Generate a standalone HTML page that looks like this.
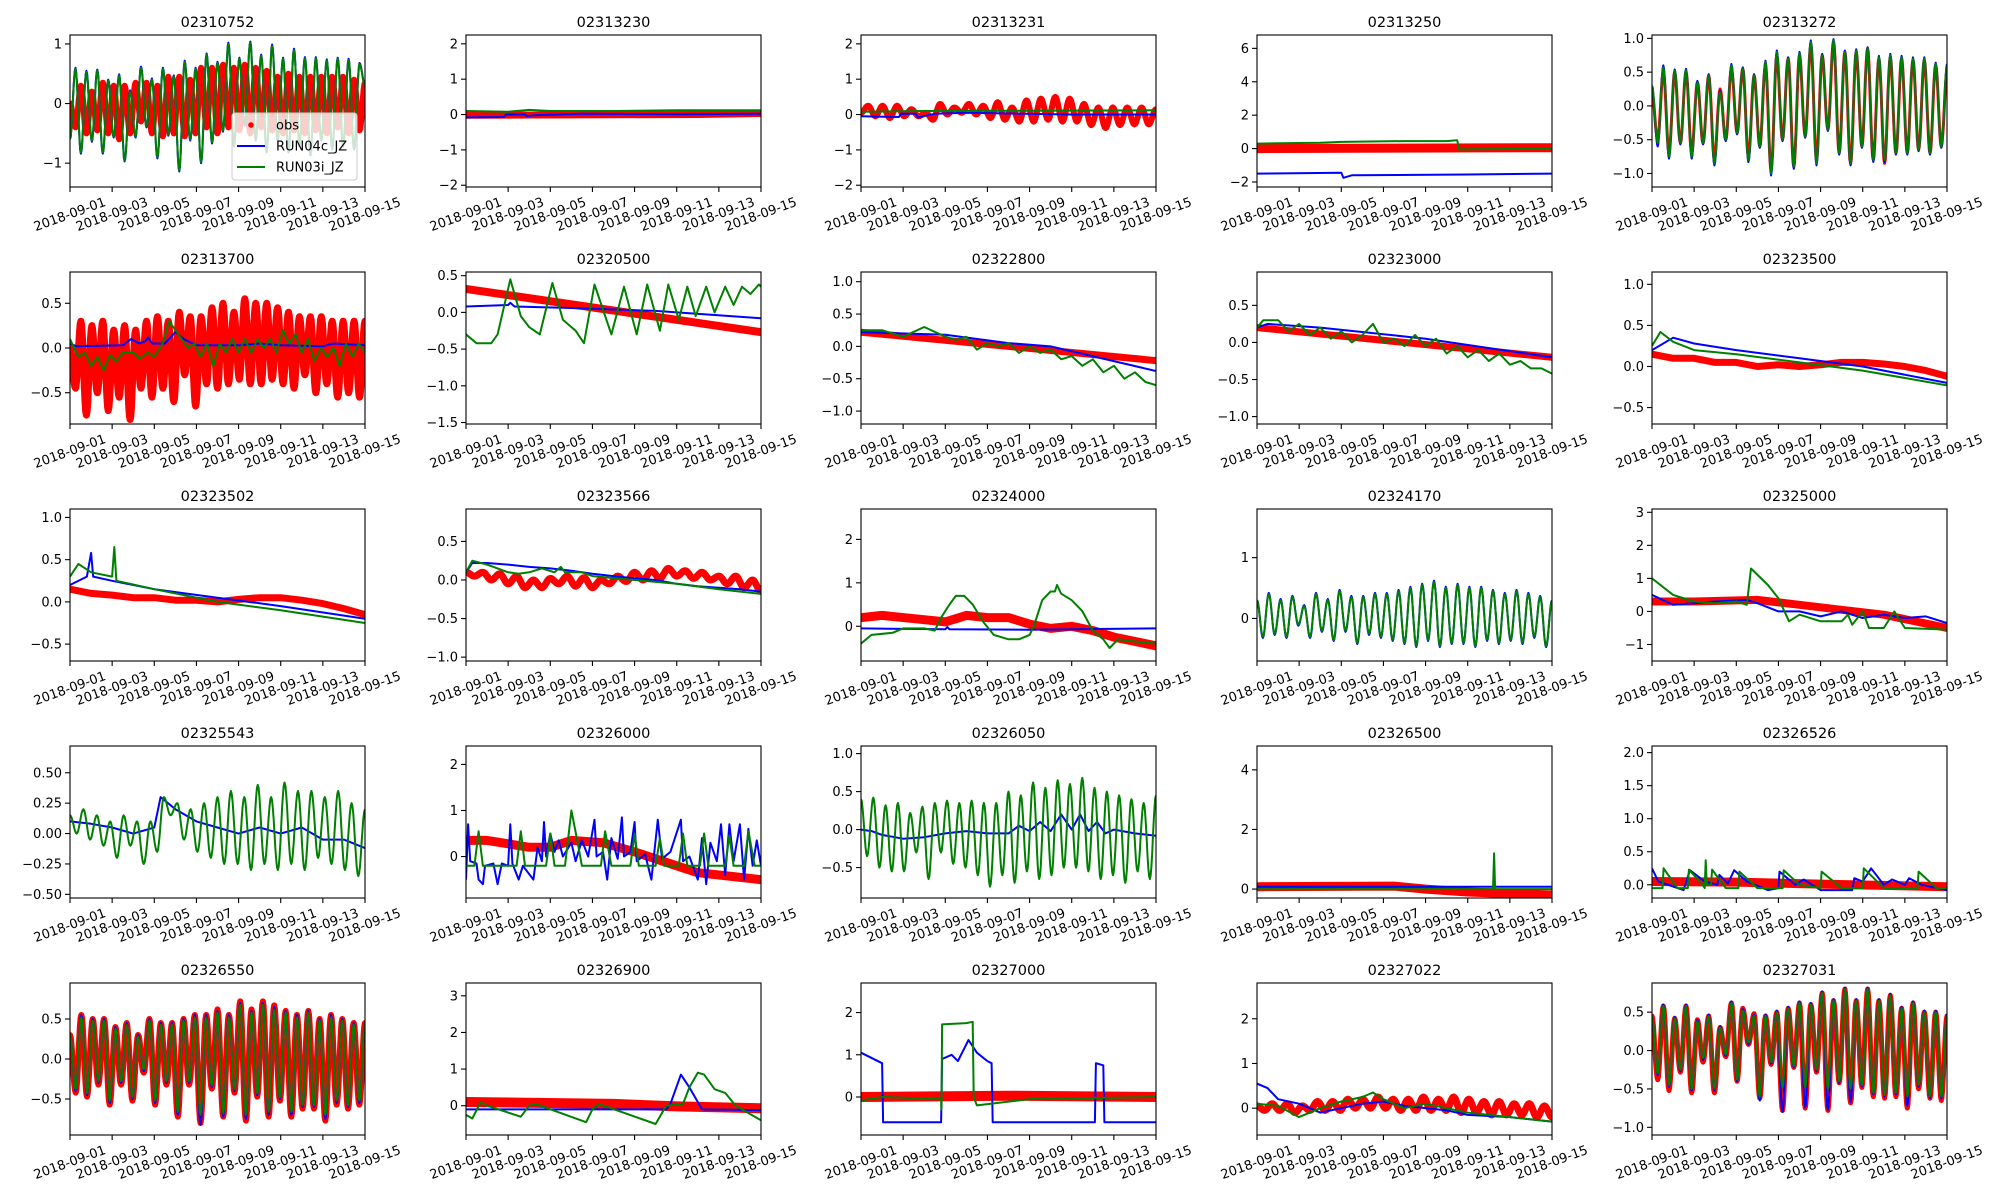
<!DOCTYPE html>
<html><head><meta charset="utf-8"><style>
html,body{margin:0;padding:0;background:#fff;}
svg{display:block;font-family:"DejaVu Sans","Liberation Sans",sans-serif;}
</style></head><body>
<svg id="fig" width="2000" height="1200" viewBox="0 0 2000 1200" xmlns="http://www.w3.org/2000/svg"></svg>
<script>
// ---------- data ----------
const titles=["02310752","02313230","02313231","02313250","02313272","02313700","02320500","02322800","02323000","02323500","02323502","02323566","02324000","02324170","02325000","02325543","02326000","02326050","02326500","02326526","02326550","02326900","02327000","02327022","02327031"];
const yMin=[-1.4,-2.05,-2.05,-2.3,-1.2,-0.85,-1.52,-1.2,-1.1,-0.7,-0.7,-1.05,-0.8,-0.7,-1.5,-0.53,-0.9,-0.9,-0.3,-0.2,-0.95,-0.8,-0.9,-0.6,-1.1];
const yMax=[1.15,2.25,2.25,6.8,1.05,0.85,0.55,1.15,0.95,1.15,1.1,0.92,2.7,1.8,3.1,0.72,2.4,1.1,4.8,2.1,0.95,3.35,2.7,2.8,0.88];
const yTicks=[[-1,0,1],[-2,-1,0,1,2],[-2,-1,0,1,2],[-2,0,2,4,6],[-1,-0.5,0,0.5,1],
[-0.5,0,0.5],[-1.5,-1,-0.5,0,0.5],[-1,-0.5,0,0.5,1],[-1,-0.5,0,0.5],[-0.5,0,0.5,1],
[-0.5,0,0.5,1],[-1,-0.5,0,0.5],[0,1,2],[0,1],[-1,0,1,2,3],
[-0.5,-0.25,0,0.25,0.5],[0,1,2],[-0.5,0,0.5,1],[0,2,4],[0,0.5,1,1.5,2],
[-0.5,0,0.5],[0,1,2,3],[0,1,2],[0,1,2],[-1,-0.5,0,0.5]];
const yTickLabels=[["\u22121","0","1"],["\u22122","\u22121","0","1","2"],["\u22122","\u22121","0","1","2"],["\u22122","0","2","4","6"],["\u22121.0","\u22120.5","0.0","0.5","1.0"],
["\u22120.5","0.0","0.5"],["\u22121.5","\u22121.0","\u22120.5","0.0","0.5"],["\u22121.0","\u22120.5","0.0","0.5","1.0"],["\u22121.0","\u22120.5","0.0","0.5"],["\u22120.5","0.0","0.5","1.0"],
["\u22120.5","0.0","0.5","1.0"],["\u22121.0","\u22120.5","0.0","0.5"],["0","1","2"],["0","1"],["\u22121","0","1","2","3"],
["\u22120.50","\u22120.25","0.00","0.25","0.50"],["0","1","2"],["\u22120.5","0.0","0.5","1.0"],["0","2","4"],["0.0","0.5","1.0","1.5","2.0"],
["\u22120.5","0.0","0.5"],["0","1","2","3"],["0","1","2"],["0","1","2"],["\u22121.0","\u22120.5","0.0","0.5"]];
const xTickDays=[0,2,4,6,8,10,12,14];
const xTickLabels=["2018-09-01","2018-09-03","2018-09-05","2018-09-07","2018-09-09","2018-09-11","2018-09-13","2018-09-15"];

// series: plain number arrays = successive tidal extremes spread evenly over 14 days; [day,value] pairs = polyline
const obs01=[0.0,-0.4,0.3,-0.5,0.2,-0.45,0.35,-0.5,0.3,-0.6,0.3,-0.5,0.35,-0.3,0.35,-0.5,0.3,-0.55,0.45,-0.5,0.45,-0.55,0.4,-0.5,0.6,-0.4,0.6,-0.5,0.65,-0.4,0.6,-0.45,0.65,-0.5,0.6,-0.4,0.55,-0.45,0.45,-0.5,0.5,-0.45,0.45,-0.5,0.45,-0.45,0.45,-0.5,0.45,-0.4,0.45,-0.5,0.4,-0.45,0.35];
const blue01=[-0.6,0.6,-0.84,0.55,-0.64,0.57,-0.84,0.4,-0.57,0.49,-0.97,0.22,-0.57,0.62,-0.4,0.42,-0.92,0.6,-0.54,0.47,-1.14,0.72,-0.62,0.6,-1.0,0.84,-0.67,0.7,-0.47,1.02,-0.72,0.77,-0.37,1.04,-0.62,0.82,-0.82,0.99,-0.62,0.77,-0.82,0.92,-0.72,0.78,-0.87,0.78,-0.62,0.74,-0.77,0.77,-0.72,0.75,-0.77,0.68,0.3];
const green01=[-0.6,0.58,-0.82,0.53,-0.62,0.55,-0.82,0.38,-0.55,0.47,-0.95,0.2,-0.55,0.6,-0.38,0.4,-0.9,0.58,-0.52,0.45,-1.12,0.7,-0.6,0.58,-0.98,0.82,-0.65,0.68,-0.45,1.0,-0.7,0.75,-0.35,1.02,-0.6,0.8,-0.8,0.97,-0.6,0.75,-0.8,0.9,-0.7,0.76,-0.85,0.76,-0.6,0.72,-0.75,0.75,-0.7,0.73,-0.75,0.66,0.3];

const obs02=[[0,-0.02],[11,0.0],[14,0.03]];
const blue02=[[0,-0.08],[1.8,-0.07],[1.9,0.0],[2.8,0.0],[2.9,-0.05],[3.2,-0.02],[5.5,0.02],[10,0.01],[14,0.02]];
const green02=[[0,0.1],[2,0.08],[3,0.13],[4,0.1],[7,0.1],[10,0.12],[14,0.12]];

const obs03=[0.05,0.25,-0.05,0.25,-0.1,0.25,-0.05,0.15,-0.05,0.05,-0.15,0.3,0.0,0.2,0.05,0.3,0.0,0.25,-0.1,0.35,-0.15,0.2,-0.2,0.4,-0.2,0.45,-0.15,0.5,-0.2,0.45,-0.2,0.3,-0.3,0.2,-0.38,0.2,-0.3,0.2,-0.28,0.2,-0.28,0.15];
const blue03=[[0,-0.05],[1.8,-0.07],[1.9,0.02],[2.6,0.02],[2.7,-0.08],[3.5,0.02],[5,0.05],[10,0.0],[14,0.0]];
const green03=[[0,0.08],[3,0.1],[14,0.12]];

const obs04=[[0,0.0],[14,0.05]];
const blue04=[[0,-1.5],[4,-1.45],[4.1,-1.75],[4.5,-1.6],[10,-1.55],[14,-1.5]];
const green04=[[0,0.3],[3,0.35],[4,0.4],[7,0.45],[9,0.45],[9.5,0.5],[9.6,-0.05],[14,0.0]];

const obs05=[0.2,-0.5,0.5,-0.7,0.5,-0.55,0.5,-0.7,0.35,-0.55,0.45,-0.8,0.25,-0.5,0.55,-0.4,0.55,-0.75,0.45,-0.6,0.6,-0.95,0.75,-0.5,0.7,-0.9,0.75,-0.45,0.9,-0.8,0.75,-0.35,0.95,-0.7,0.8,-0.85,0.8,-0.6,0.85,-0.8,0.7,-0.85,0.72,-0.7,0.7,-0.7,0.68,-0.65,0.68,-0.7,0.6,-0.6,0.5];
const blue05=[0.3,-0.6,0.6,-0.78,0.54,-0.57,0.55,-0.78,0.37,-0.57,0.47,-0.88,0.22,-0.52,0.62,-0.42,0.57,-0.83,0.47,-0.62,0.67,-1.03,0.82,-0.52,0.72,-0.93,0.8,-0.47,0.97,-0.88,0.77,-0.37,0.99,-0.72,0.82,-0.88,0.84,-0.62,0.87,-0.83,0.74,-0.83,0.77,-0.72,0.74,-0.72,0.72,-0.67,0.72,-0.72,0.64,-0.62,0.62];
const green05=[0.3,-0.55,0.57,-0.75,0.52,-0.55,0.53,-0.75,0.35,-0.55,0.45,-0.85,0.2,-0.5,0.6,-0.4,0.55,-0.8,0.45,-0.6,0.65,-1.0,0.8,-0.5,0.7,-0.9,0.78,-0.45,0.95,-0.85,0.75,-0.35,0.97,-0.7,0.8,-0.85,0.82,-0.6,0.85,-0.8,0.72,-0.8,0.75,-0.7,0.72,-0.7,0.7,-0.65,0.7,-0.7,0.62,-0.6,0.6];

const obs06=[0.0,-0.45,0.3,-0.75,0.25,-0.5,0.3,-0.7,0.2,-0.55,0.25,-0.8,0.2,-0.45,0.3,-0.55,0.35,-0.45,0.3,-0.6,0.4,-0.3,0.35,-0.65,0.35,-0.4,0.45,-0.45,0.5,-0.4,0.4,-0.35,0.55,-0.4,0.5,-0.4,0.5,-0.35,0.45,-0.4,0.4,-0.45,0.35,-0.3,0.35,-0.5,0.35,-0.4,0.3,-0.55,0.3,-0.5,0.3,-0.55,0.3];
const blue06=[[0,0.05],[0.3,0.02],[2.5,0.03],[2.9,0.1],[3.3,0.05],[3.6,0.08],[3.7,0.12],[3.9,0.05],[4.5,0.05],[5,0.18],[5.4,0.1],[6,0.03],[8,0.03],[9,0.05],[10,0.03],[12,0.02],[12.5,0.05],[14,0.03]];
const green06=[[0,0.1],[0.4,-0.1],[0.7,-0.05],[1,-0.2],[1.3,-0.1],[1.6,-0.25],[1.9,-0.08],[2.2,-0.15],[2.5,-0.05],[3.0,-0.05],[3.3,-0.12],[3.7,-0.05],[4.0,-0.1],[4.4,0.05],[4.7,0.3],[5.0,0.2],[5.3,0.1],[5.6,0.0],[5.9,0.05],[6.2,-0.1],[6.5,0.05],[6.8,-0.2],[7.1,0.05],[7.4,-0.05],[7.7,0.1],[8.0,-0.05],[8.3,0.1],[8.6,-0.05],[8.9,0.1],[9.2,0.0],[9.5,0.1],[9.8,-0.05],[10.1,0.2],[10.4,0.05],[10.7,0.15],[11,-0.05],[11.3,0.1],[11.6,-0.15],[11.9,0.0],[12.2,-0.1],[12.5,0.0],[12.8,-0.2],[13.1,0.05],[13.4,-0.1],[13.7,0.05],[14,-0.05]];

const obs07=[[0,0.32],[14,-0.27]];
const blue07=[[0,0.08],[2,0.1],[2.1,0.13],[2.3,0.08],[5,0.06],[9,0.02],[14,-0.08]];
const green07=[[0,-0.3],[0.5,-0.42],[1.2,-0.42],[1.5,-0.3],[2.1,0.45],[2.6,-0.05],[3,-0.2],[3.5,-0.3],[4.1,0.4],[4.6,-0.1],[5.2,-0.25],[5.6,-0.42],[6.1,0.38],[6.9,-0.3],[7.5,0.35],[8.1,-0.3],[8.6,0.38],[9.2,-0.25],[9.6,0.38],[10.1,-0.1],[10.5,0.35],[10.9,-0.05],[11.4,0.35],[11.8,0.0],[12.3,0.35],[12.7,0.1],[13.1,0.35],[13.5,0.25],[13.9,0.38],[14,0.35]];

const obs08=[[0,0.22],[14,-0.22]];
const blue08=[[0,0.22],[4,0.18],[7,0.05],[9,0.0],[14,-0.38]];
const green08=[[0,0.25],[1,0.25],[2,0.15],[3,0.3],[4,0.15],[4.5,0.1],[5,0.15],[5.5,-0.05],[6,0.05],[6.5,0.0],[7,0.05],[7.5,-0.1],[8,0.0],[8.5,-0.1],[9,-0.05],[9.5,-0.2],[10,-0.15],[10.5,-0.3],[11,-0.2],[11.5,-0.4],[12,-0.3],[12.5,-0.5],[13,-0.4],[13.5,-0.55],[14,-0.6]];

const obs09=[[0,0.2],[14,-0.2]];
const blue09=[[0,0.2],[0.5,0.25],[3,0.2],[8,0.05],[14,-0.2]];
const green09=[[0,0.2],[0.3,0.3],[1,0.3],[1.5,0.15],[2,0.25],[2.5,0.1],[3,0.2],[3.5,0.05],[4,0.15],[4.5,0.0],[5,0.1],[5.5,0.25],[6,0.0],[6.5,0.05],[7,-0.05],[7.5,0.1],[8,-0.05],[8.5,0.05],[9,-0.15],[9.5,-0.05],[10,-0.2],[10.5,-0.1],[11,-0.25],[11.5,-0.15],[12,-0.3],[12.5,-0.25],[13,-0.35],[13.5,-0.35],[14,-0.42]];

const obs10=[[0,0.15],[1,0.1],[2,0.1],[3,0.05],[4,0.05],[5,0.0],[6,0.02],[7,0.0],[8,0.02],[9,0.05],[10,0.05],[11,0.03],[12,0.0],[13,-0.05],[14,-0.12]];
const blue10=[[0,0.2],[1,0.35],[2,0.28],[4,0.2],[7,0.1],[10,0.0],[14,-0.2]];
const green10=[[0,0.25],[0.4,0.42],[1,0.3],[1.5,0.25],[2,0.2],[4,0.15],[7,0.05],[10,-0.05],[14,-0.23]];

const obs11=[[0,0.15],[1,0.1],[2,0.08],[3,0.05],[4,0.05],[5,0.02],[6,0.02],[7,0.0],[8,0.03],[9,0.05],[10,0.05],[11,0.02],[12,-0.02],[13,-0.08],[14,-0.15]];
const blue11=[[0,0.2],[0.8,0.3],[1,0.58],[1.1,0.3],[2,0.25],[4,0.15],[7,0.05],[10,-0.05],[14,-0.2]];
const green11=[[0,0.3],[0.4,0.45],[1,0.35],[2,0.3],[2.1,0.65],[2.2,0.25],[4,0.15],[7,0.0],[10,-0.1],[14,-0.25]];

const obs12=[0.1,0.05,0.1,0.0,0.08,-0.05,0.05,-0.1,0.0,-0.1,0.02,-0.05,0.05,-0.08,0.03,-0.1,0.0,-0.05,0.05,-0.02,0.1,0.0,0.12,0.02,0.15,0.05,0.12,0.02,0.1,0.0,0.05,-0.05,0.05,-0.1,0.0,-0.15];
const blue12=[[0,0.1],[0.3,0.22],[1,0.22],[2,0.2],[3,0.17],[4,0.15],[5,0.12],[6,0.08],[7,0.05],[8,0.02],[9,0.0],[10,-0.05],[11,-0.08],[12,-0.1],[13,-0.12],[14,-0.15]];
const green12=[[0,0.1],[0.3,0.25],[1,0.2],[2,0.1],[2.5,0.08],[3,0.1],[3.6,0.15],[4.2,0.1],[4.5,0.17],[4.7,0.1],[5.5,0.1],[6,0.05],[8,0.0],[10,-0.05],[12,-0.12],[14,-0.18]];

const obs13=[[0,0.2],[1,0.25],[3,0.15],[4,0.1],[5,0.25],[6,0.2],[7,0.2],[8,0.05],[9,-0.05],[10,0.0],[11,-0.1],[12,-0.25],[14,-0.45]];
const blue13=[[0,-0.05],[4,-0.07],[4.1,-0.02],[4.2,-0.07],[8,-0.08],[14,-0.05]];
const green13=[[0,-0.4],[0.5,-0.2],[1.5,-0.15],[2,-0.05],[3,-0.05],[3.5,-0.1],[3.8,0.2],[4.2,0.5],[4.5,0.7],[4.9,0.7],[5.3,0.5],[5.8,0.1],[6.3,-0.2],[7,-0.3],[7.5,-0.3],[8,-0.2],[8.2,0.0],[8.6,0.6],[9,0.8],[9.2,0.8],[9.3,0.95],[9.5,0.75],[10,0.6],[10.5,0.35],[11,-0.1],[11.5,-0.3],[11.8,-0.5],[12.2,-0.3],[13,-0.35],[14,-0.4]];

const obs14=[];
const blue14=[0.3,-0.32,0.42,-0.27,0.32,-0.32,0.37,-0.12,0.22,-0.32,0.42,-0.22,0.32,-0.37,0.47,-0.22,0.37,-0.42,0.37,-0.27,0.42,-0.32,0.42,-0.37,0.47,-0.42,0.52,-0.47,0.57,-0.37,0.62,-0.47,0.52,-0.42,0.57,-0.42,0.52,-0.47,0.52,-0.37,0.47,-0.42,0.42,-0.37,0.47,-0.42,0.42,-0.32,0.37,-0.47,0.3];
const green14=[0.3,-0.3,0.4,-0.25,0.3,-0.3,0.35,-0.1,0.2,-0.3,0.4,-0.2,0.3,-0.35,0.45,-0.2,0.35,-0.4,0.35,-0.25,0.4,-0.3,0.4,-0.35,0.45,-0.4,0.5,-0.45,0.55,-0.35,0.6,-0.45,0.5,-0.4,0.55,-0.4,0.5,-0.45,0.5,-0.35,0.45,-0.4,0.4,-0.35,0.45,-0.4,0.4,-0.3,0.35,-0.45,0.3];

const obs15=[[0,0.3],[2,0.3],[5,0.35],[7,0.2],[9,0.05],[11,-0.1],[14,-0.5]];
const blue15=[[0,0.5],[1,0.2],[2,0.25],[3,0.3],[4.5,0.35],[5,0.25],[6,0.0],[7,0.0],[8,-0.15],[9,0.0],[10,-0.2],[11,-0.1],[12,-0.2],[13,-0.15],[14,-0.35]];
const green15=[[0,1.0],[1,0.5],[2,0.3],[3,0.25],[4,0.3],[4.5,0.2],[4.7,1.3],[5.5,0.8],[6,0.4],[6.5,-0.3],[7,-0.1],[8,-0.3],[9,-0.3],[9.3,-0.1],[9.5,-0.4],[10,0.0],[10.3,-0.5],[11,-0.5],[11.5,0.0],[12,-0.5],[14,-0.55]];

const obs16=[];
const blue16=[[0,0.1],[1,0.08],[2,0.05],[3,0.0],[4,0.05],[4.3,0.3],[5,0.2],[6,0.1],[7,0.05],[8,0.0],[9,0.05],[10,0.0],[11,0.05],[12,-0.05],[13,-0.05],[14,-0.12]];
const green16=[0.15,0.0,0.2,-0.05,0.15,-0.1,0.1,-0.2,0.15,-0.1,0.1,-0.25,0.1,-0.15,0.3,0.15,0.25,-0.05,0.2,-0.15,0.25,-0.2,0.3,-0.25,0.35,-0.25,0.3,-0.3,0.4,-0.25,0.3,-0.3,0.42,-0.25,0.35,-0.3,0.35,-0.2,0.3,-0.25,0.35,-0.3,0.25,-0.35,0.2];

const obs17=[[0,0.35],[1,0.35],[3,0.2],[4,0.2],[5,0.35],[6.5,0.3],[8,0.1],[10,-0.2],[11,-0.35],[12,-0.4],[14,-0.5]];
const blue17=[[0,-0.5],[0.1,0.7],[0.2,-0.1],[0.5,-0.15],[0.6,-0.5],[0.8,-0.6],[0.9,-0.2],[1.3,-0.15],[1.5,-0.6],[1.7,-0.15],[2,-0.2],[2.1,0.7],[2.2,-0.15],[2.5,-0.5],[2.7,-0.2],[3.2,-0.5],[3.4,0.2],[3.6,-0.1],[3.7,0.75],[3.8,0.0],[4.0,0.5],[4.2,0.1],[4.4,0.35],[4.6,0.0],[5,0.3],[5.2,-0.1],[5.5,0.35],[5.8,0.0],[6.1,0.8],[6.2,0.0],[6.5,0.1],[6.7,-0.5],[6.9,0.4],[7.2,-0.05],[7.4,0.85],[7.5,0.0],[7.8,0.1],[8.0,0.75],[8.1,-0.1],[8.5,0.05],[8.8,-0.5],[9.1,0.8],[9.3,-0.05],[9.7,0.1],[10.2,0.8],[10.3,-0.1],[10.6,0.0],[11,-0.5],[11.2,0.4],[11.4,-0.6],[11.6,0.3],[11.9,-0.1],[12.1,0.7],[12.3,-0.4],[12.5,0.7],[12.7,-0.1],[13,0.7],[13.2,-0.5],[13.4,0.6],[13.6,-0.2],[13.8,0.35],[14,-0.2]];
const green17=[[0,-0.2],[0.4,-0.2],[0.6,0.55],[0.8,-0.2],[2.4,-0.2],[2.6,0.55],[2.8,-0.2],[3.8,-0.2],[4.0,0.5],[4.2,-0.2],[4.7,-0.2],[5.0,1.0],[5.3,0.3],[5.5,-0.2],[6.4,-0.2],[6.6,0.55],[6.9,-0.2],[7.8,-0.2],[8.0,0.5],[8.2,-0.2],[9.0,-0.2],[9.2,0.4],[9.4,-0.2],[10.1,-0.2],[10.3,0.5],[10.5,-0.2],[11.1,-0.2],[11.3,0.5],[11.5,-0.2],[12.3,-0.2],[12.5,0.45],[12.7,-0.2],[13.2,-0.2],[13.4,0.55],[13.7,-0.2],[14,-0.2]];

const obs18=[];
const blue18=[[0,0.0],[0.5,-0.02],[1,-0.07],[2,-0.12],[3,-0.1],[4,-0.05],[5,-0.02],[6,-0.05],[7,-0.05],[7.5,0.05],[8,-0.02],[8.5,0.1],[9,-0.02],[9.5,0.2],[10,0.0],[10.4,0.2],[10.8,-0.02],[11.2,0.1],[11.6,-0.05],[12,0.0],[13,-0.05],[14,-0.08]];
const green18=[0.4,-0.35,0.42,-0.5,0.32,-0.55,0.35,-0.55,0.22,-0.3,0.3,-0.65,0.35,-0.3,0.38,-0.45,0.35,-0.5,0.38,-0.6,0.35,-0.75,0.35,-0.6,0.5,-0.7,0.45,-0.55,0.62,-0.65,0.55,-0.6,0.65,-0.5,0.6,-0.5,0.68,-0.55,0.55,-0.65,0.5,-0.6,0.45,-0.7,0.4,-0.55,0.35,-0.65,0.45];

const obs19=[[0,0.08],[6.5,0.1],[8,0.0],[10,-0.1],[14,-0.2]];
const blue19=[[0,0.08],[14,0.08]];
const green19=[[0,0.0],[11.2,0.0],[11.25,1.2],[11.3,0.0],[14,0.0]];

const obs20=[[0,0.05],[4,0.04],[8,0.01],[14,-0.03]];
const blue20=[[0,0.25],[0.3,0.05],[1.5,-0.08],[1.8,0.22],[2.5,0.05],[3.1,0.0],[3.2,0.15],[3.6,0.02],[3.9,0.22],[4.5,0.05],[5.5,-0.08],[6.0,-0.05],[6.05,0.2],[6.8,0.0],[7.2,0.08],[8,-0.08],[9.5,-0.08],[9.6,0.1],[10,0.05],[10.4,0.25],[11,0.0],[11.4,0.08],[12,0.0],[12.2,0.1],[12.8,0.0],[14,-0.08]];
const green20=[[0,-0.05],[0.5,-0.05],[0.55,0.25],[1.2,-0.05],[1.7,-0.05],[1.75,0.23],[2.4,0.0],[2.5,-0.05],[2.55,0.37],[2.6,0.0],[2.8,0.0],[2.85,0.23],[3.5,-0.05],[4.1,-0.05],[4.15,0.2],[5,-0.05],[6.2,-0.05],[6.25,0.22],[7,0.0],[8,-0.05],[8.05,0.2],[9,-0.05],[10,-0.05],[10.05,0.25],[11,-0.05],[12.6,-0.05],[12.65,0.2],[13.5,-0.05],[14,-0.05]];

const obs21=[0.3,-0.42,0.55,-0.47,0.5,-0.32,0.5,-0.57,0.4,-0.32,0.45,-0.52,0.3,-0.17,0.5,-0.57,0.45,-0.32,0.45,-0.72,0.5,-0.32,0.55,-0.8,0.55,-0.37,0.62,-0.72,0.55,-0.42,0.72,-0.77,0.62,-0.47,0.72,-0.72,0.67,-0.52,0.6,-0.72,0.55,-0.62,0.6,-0.62,0.5,-0.77,0.55,-0.57,0.5,-0.62,0.45,-0.57,0.45];
const blue21=[0.3,-0.4,0.55,-0.45,0.5,-0.3,0.5,-0.55,0.4,-0.3,0.45,-0.5,0.3,-0.15,0.5,-0.55,0.45,-0.3,0.45,-0.7,0.5,-0.3,0.55,-0.82,0.55,-0.35,0.6,-0.72,0.55,-0.4,0.7,-0.75,0.6,-0.45,0.7,-0.7,0.65,-0.5,0.6,-0.7,0.55,-0.6,0.6,-0.6,0.5,-0.75,0.55,-0.55,0.5,-0.6,0.45,-0.55,0.45];
const green21=[0.3,-0.38,0.52,-0.43,0.48,-0.28,0.48,-0.52,0.38,-0.28,0.43,-0.48,0.28,-0.13,0.48,-0.52,0.43,-0.28,0.43,-0.66,0.48,-0.28,0.52,-0.7,0.52,-0.33,0.58,-0.68,0.52,-0.38,0.68,-0.7,0.58,-0.43,0.68,-0.66,0.62,-0.48,0.58,-0.66,0.52,-0.58,0.58,-0.58,0.48,-0.7,0.52,-0.52,0.48,-0.58,0.43,-0.52,0.45];

const obs22=[[0,0.1],[7,0.05],[10,-0.02],[14,-0.07]];
const blue22=[[0,-0.1],[9.5,-0.1],[9.7,0.05],[10.2,0.85],[10.6,0.5],[11.2,-0.1],[14,-0.12]];
const green22=[[0,-0.25],[0.3,-0.35],[0.7,0.1],[1,0.0],[2.6,-0.3],[3.0,0.0],[3.3,0.05],[5.7,-0.45],[6.0,-0.1],[6.3,0.05],[9.0,-0.5],[9.5,0.0],[10.3,0.05],[10.6,0.5],[11,0.9],[11.3,0.85],[11.8,0.45],[12.3,0.35],[12.8,0.0],[14,-0.4]];

const obs23=[[0,0.0],[7,0.03],[14,0.0]];
const blue23=[[0,1.05],[1,0.8],[1.05,-0.6],[3.8,-0.6],[3.85,0.9],[4.3,1.0],[4.6,0.85],[5.1,1.35],[5.5,1.05],[6,0.85],[6.2,0.8],[6.25,-0.6],[11.1,-0.6],[11.15,0.8],[11.5,0.75],[11.55,-0.6],[14,-0.6]];
const green23=[[0,-0.08],[1,0.0],[3.8,-0.05],[3.82,-0.3],[3.85,1.72],[5,1.75],[5.3,1.78],[5.35,0.0],[5.5,-0.2],[8,-0.05],[14,0.0]];

const obs24=[0.05,-0.05,0.1,-0.05,0.1,-0.1,0.05,-0.05,0.15,-0.05,0.15,-0.05,0.2,0.0,0.2,0.0,0.25,0.0,0.2,-0.05,0.2,-0.05,0.25,-0.05,0.2,-0.05,0.25,-0.1,0.2,-0.1,0.15,-0.15,0.15,-0.15,0.1,-0.15,0.1,-0.2,0.05,-0.2];
const blue24=[[0,0.55],[0.5,0.45],[1,0.2],[2,0.1],[3,-0.1],[4,0.0],[5,0.1],[6,0.15],[7,0.05],[9,-0.05],[10,-0.15],[12,-0.2],[14,-0.3]];
const green24=[[0,0.1],[1,0.05],[2,-0.2],[3,0.0],[4,0.15],[5,0.25],[5.5,0.35],[6,0.2],[7,0.0],[8,0.1],[9,0.0],[10,-0.1],[11,-0.15],[12,-0.2],[13,-0.25],[14,-0.3]];

const obs25=[0.45,-0.38,0.58,-0.52,0.42,-0.28,0.58,-0.55,0.4,-0.15,0.45,-0.55,0.3,-0.08,0.62,-0.4,0.55,0.08,0.48,-0.62,0.45,-0.18,0.5,-0.78,0.55,-0.22,0.62,-0.75,0.6,-0.28,0.75,-0.78,0.65,-0.42,0.8,-0.68,0.65,-0.48,0.8,-0.6,0.65,-0.62,0.72,-0.6,0.55,-0.75,0.62,-0.5,0.5,-0.62,0.5,-0.65,0.45];
const blue25=[0.45,-0.32,0.6,-0.47,0.44,-0.27,0.6,-0.52,0.4,-0.12,0.47,-0.52,0.32,-0.07,0.64,-0.4,0.54,0.08,0.47,-0.65,0.47,-0.17,0.52,-0.8,0.57,-0.22,0.64,-0.74,0.62,-0.27,0.77,-0.77,0.67,-0.42,0.82,-0.67,0.67,-0.47,0.82,-0.57,0.67,-0.6,0.74,-0.57,0.57,-0.72,0.64,-0.47,0.52,-0.62,0.52,-0.62,0.47];
const green25=[0.45,-0.3,0.58,-0.45,0.42,-0.25,0.58,-0.5,0.38,-0.1,0.45,-0.5,0.3,-0.05,0.62,-0.38,0.52,0.1,0.45,-0.6,0.45,-0.15,0.5,-0.48,0.55,-0.2,0.62,-0.48,0.6,-0.25,0.75,-0.5,0.65,-0.4,0.8,-0.5,0.65,-0.45,0.8,-0.55,0.65,-0.58,0.72,-0.55,0.55,-0.6,0.62,-0.45,0.5,-0.6,0.5,-0.6,0.45];

const obsSeries=[obs01,obs02,obs03,obs04,obs05,obs06,obs07,obs08,obs09,obs10,obs11,obs12,obs13,obs14,obs15,obs16,obs17,obs18,obs19,obs20,obs21,obs22,obs23,obs24,obs25];
const blueSeries=[blue01,blue02,blue03,blue04,blue05,blue06,blue07,blue08,blue09,blue10,blue11,blue12,blue13,blue14,blue15,blue16,blue17,blue18,blue19,blue20,blue21,blue22,blue23,blue24,blue25];
const greenSeries=[green01,green02,green03,green04,green05,green06,green07,green08,green09,green10,green11,green12,green13,green14,green15,green16,green17,green18,green19,green20,green21,green22,green23,green24,green25];

// ---------- layout / style ----------
const colLeft=[70,466,861,1257,1652];
const rowTop=[35,272,509,746,983];
const PW=295, PH=152, DAYS=14;
const obsStroke=[6,7,6,9,3,7,8,7,7,7,7,7,9,6,8,6,9,6,9,9,6,10,10,7,5];
const NS="http://www.w3.org/2000/svg";
const svg=document.getElementById('fig');
function mk(tag,attrs,parent){const e=document.createElementNS(NS,tag);for(const k in attrs)e.setAttribute(k,attrs[k]);(parent||svg).appendChild(e);return e;}

function seriesPoints(s,sx,sy){
  const pts=[];
  if(!s.length) return pts;
  if(Array.isArray(s[0])){ for(const p of s) pts.push([sx(p[0]),sy(p[1])]); return pts; }
  const n=s.length, step=DAYS/(n-1);
  for(let i=0;i<n-1;i++){
    for(let k=0;k<8;k++){
      const f=k/8, w=(1-Math.cos(Math.PI*f))/2;
      pts.push([sx((i+f)*step), sy(s[i]*(1-w)+s[i+1]*w)]);
    }
  }
  pts.push([sx(DAYS),sy(s[n-1])]);
  return pts;
}
function pathD(pts){return pts.map((p,i)=>(i?'L':'M')+p[0].toFixed(1)+','+p[1].toFixed(1)).join('');}

for(let i=0;i<25;i++){
  const L=colLeft[i%5], T=rowTop[Math.floor(i/5)];
  const lo=yMin[i], hi=yMax[i];
  const sx=d=>L+d/DAYS*PW;
  const sy=v=>T+PH-(v-lo)/(hi-lo)*PH;
  const g=mk('g',{});
  
  
  const cp=mk('clipPath',{id:'clip'+i},g);
  mk('rect',{x:L,y:T,width:PW,height:PH},cp);
  const t=mk('text',{x:L+PW/2,y:T-8,'text-anchor':'middle','font-size':'14.5',fill:'#000'},g);
  t.textContent=titles[i];
  
  
  const plot=mk('g',{'clip-path':'url(#clip'+i+')'},g);
  
  
  const os=seriesPoints(obsSeries[i],sx,sy);
  if(os.length){
    const p=mk('path',{d:pathD(os),fill:'none',stroke:'#ff0000','stroke-width':obsStroke[i],'stroke-linejoin':'round','stroke-linecap':'round'},plot);
    
    
  }
  const bs=seriesPoints(blueSeries[i],sx,sy);
  if(bs.length){
    const p=mk('path',{d:pathD(bs),fill:'none',stroke:'#0000ff','stroke-width':2,'stroke-linejoin':'round'},plot);
    
    
  }
  const gs=seriesPoints(greenSeries[i],sx,sy);
  if(gs.length){
    const p=mk('path',{d:pathD(gs),fill:'none',stroke:'#008000','stroke-width':2,'stroke-linejoin':'round'},plot);
    
    
  }
  const fr=mk('rect',{x:L,y:T,width:PW,height:PH,fill:'none',stroke:'#000','stroke-width':1.1},g);
  
  
  // y ticks
  yTicks[i].forEach((v,j)=>{
    const y=sy(v);
    mk('line',{x1:L-5,y1:y,x2:L,y2:y,stroke:'#000','stroke-width':1.1},g);
    const tl=mk('text',{x:L-8,y:y+4.5,'text-anchor':'end','font-size':'13',fill:'#000'},g);
    tl.textContent=yTickLabels[i][j];
    
    
  });
  // x ticks
  xTickDays.forEach((d,j)=>{
    const x=sx(d);
    mk('line',{x1:x,y1:T+PH,x2:x,y2:T+PH+5,stroke:'#000','stroke-width':1.1},g);
    const tl=mk('text',{x:x,y:T+PH+28,'text-anchor':'middle','dominant-baseline':'central','font-size':'13',fill:'#000',transform:'rotate(-20 '+x+' '+(T+PH+28)+')'},g);
    tl.textContent=xTickLabels[j];
    
    
  });
  if(i===0){
    const lg=mk('g',{},g);
    
    
    mk('rect',{x:232,y:113,width:125,height:67,rx:3,fill:'#fff','fill-opacity':0.8,stroke:'#cccccc','stroke-width':1},lg);
    const names=['obs','RUN04c_JZ','RUN03i_JZ'], cols=['#ff0000','#0000ff','#008000'];
    names.forEach((nm,k)=>{
      const yy=125+k*21;
      if(k===0){ mk('circle',{cx:251,cy:yy,r:2.8,fill:cols[k]},lg); }
      else { mk('line',{x1:237,y1:yy,x2:265,y2:yy,stroke:cols[k],'stroke-width':2},lg); }
      const lt=mk('text',{x:276,y:yy+4.5,'font-size':'13',fill:'#000'},lg);
      lt.textContent=nm;
      
      
    });
  }
}
</script>
</body></html>
